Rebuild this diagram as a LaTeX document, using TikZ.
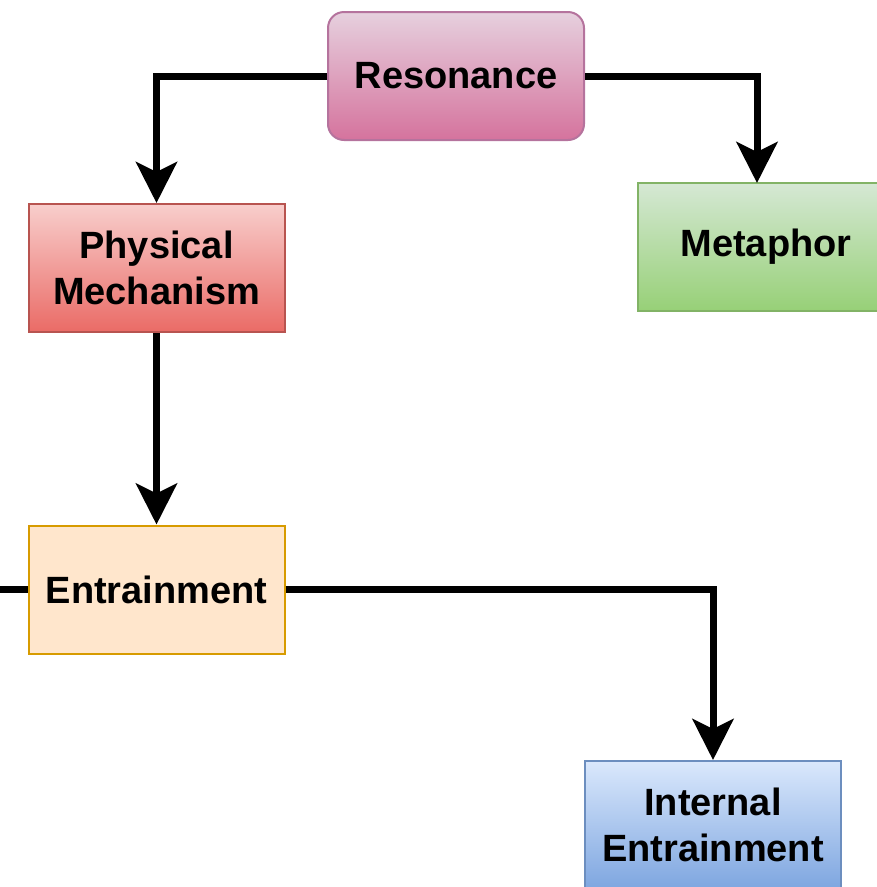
\documentclass[tikz,border=0pt]{standalone}
\usepackage{fontspec}
\setmainfont{Liberation Sans}
\usetikzlibrary{arrows.meta}
\definecolor{resTop}{HTML}{E6D0DE}
\definecolor{resBot}{HTML}{D5739D}
\definecolor{resLine}{HTML}{B5739D}
\definecolor{phyTop}{HTML}{F8CECC}
\definecolor{phyBot}{HTML}{EA6B66}
\definecolor{phyLine}{HTML}{B85450}
\definecolor{metTop}{HTML}{D5E8D4}
\definecolor{metBot}{HTML}{97D077}
\definecolor{metLine}{HTML}{82B366}
\definecolor{entFill}{HTML}{FFE6CC}
\definecolor{entLine}{HTML}{D79B00}
\definecolor{intTop}{HTML}{DAE8FC}
\definecolor{intBot}{HTML}{7EA6E0}
\definecolor{intLine}{HTML}{6C8EBF}
\tikzset{
  box/.style={draw, line width=2pt, minimum width=256pt, minimum height=128pt,
    inner sep=0pt, align=center, font=\fontsize{38}{46}\selectfont\bfseries},
  conn/.style={line width=7pt, black},
  arr/.style={conn, -{Stealth[length=41pt,width=41pt,inset=10pt]}}
}
\begin{document}
\begin{tikzpicture}[x=1pt,y=-1pt]
\useasboundingbox (0,0) rectangle (877,887);
\clip (0,0) rectangle (877,887);
\node[box, draw=resLine, top color=resTop, bottom color=resBot, rounded corners=16pt] (res) at (456,76) {Resonance};
\node[box, draw=phyLine, top color=phyTop, bottom color=phyBot] (phy) at (156.5,268) {Physical\\Mechanism};
\node[box, draw=metLine, top color=metTop, bottom color=metBot] (met) at (766,247) {Metaphor};
\node[box, draw=entLine, fill=entFill] (ent) at (156.5,589.5) {Entrainment};
\node[box, draw=intLine, top color=intTop, bottom color=intBot] (int) at (713,825) {Internal\\Entrainment};
\coordinate (lft) at (0,589.5);
\coordinate (metIn) at (757,183);
\draw[arr] (res.west) -| (phy.north);
\draw[arr] (res.east) -| (metIn);
\draw[arr] (phy.south) -- (ent.north);
\draw[arr] (ent.east) -| (int.north);
\draw[conn] (lft) -- (ent.west);
\end{tikzpicture}
\end{document}
